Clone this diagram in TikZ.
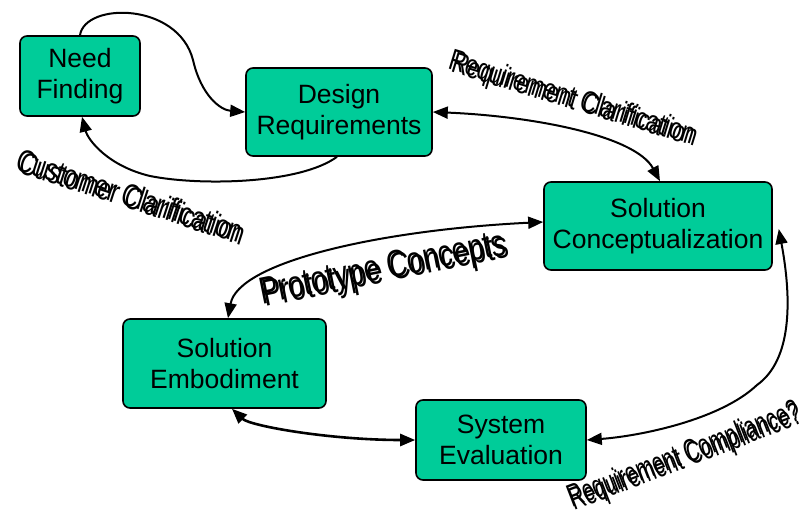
\documentclass[tikz,border=0pt]{standalone}
\usepackage{fontspec}
\setmainfont{Liberation Sans}
\usepackage{pdfrender}
\usetikzlibrary{arrows.meta}
\definecolor{boxgreen}{HTML}{00CC99}
\definecolor{shadowgray}{HTML}{8C8C8C}
\tikzset{
  stage/.style={draw=black, line width=1.6pt, fill=boxgreen, rounded corners=7pt,
    align=center, inner sep=0pt, font=\fontsize{26.5}{31}\selectfont},
  link/.style={line width=2pt, -{Triangle[length=15pt,width=12pt]}},
  twoway/.style={line width=2pt, {Triangle[length=15pt,width=12pt]}-{Triangle[length=15pt,width=12pt]}},
}
% Outlined label with a drop shadow: name, centre, angle, font size, x-scale, text
\newcommand\artlabel[6]{%
  \begin{scope}[shift={#2}]
    \node[rotate=#3, xscale=#5, font=\fontsize{#4}{#4}\selectfont] at (2.8,2.8)
      {\textpdfrender{TextRenderingMode=FillStroke, LineWidth=1.6pt,
        FillColor=shadowgray, StrokeColor=shadowgray}{#6}};
    \node[rotate=#3, xscale=#5, font=\fontsize{#4}{#4}\selectfont] (#1) at (0,0)
      {\textpdfrender{TextRenderingMode=FillStroke, LineWidth=1.5pt,
        FillColor=white, StrokeColor=black}{#6}};
  \end{scope}%
}
\begin{document}
\begin{tikzpicture}[x=1pt, y=-1pt]
  \useasboundingbox (0,0) rectangle (809,519);

  % stages
  \node[stage, minimum width=120pt, minimum height=80pt] (need)    at (80,76)    {Need\\Finding};
  \node[stage, minimum width=186pt, minimum height=88pt] (design)  at (339,112)  {Design\\Requirements};
  \node[stage, minimum width=228pt, minimum height=88pt] (concept) at (658,226)  {Solution\\Conceptualization};
  \node[stage, minimum width=203pt, minimum height=89pt] (embod)   at (224.5,363.5) {Solution\\Embodiment};
  \node[stage, minimum width=170pt, minimum height=80pt] (syseval) at (501,440)  {System\\Evaluation};

  % connectors
  \draw[link] (need.north) .. controls (85,2) and (178,2) .. (193,60)
                           .. controls (201,95) and (220,110) .. (design.west);
  \draw[link] ([xshift=-2pt]design.south) .. controls (300,184) and (200,186) .. (150,176)
                           .. controls (108,166) and (88,140) .. ([xshift=2pt]need.south);
  \draw[twoway] (design.east) .. controls (530,116) and (635,135) .. ([xshift=2pt]concept.north);
  \draw[twoway] ([yshift=4pt]concept.west) .. controls (380,230) and (238,262) .. ([xshift=3.5pt]embod.north);
  \draw[twoway] ([xshift=6pt,yshift=-3pt]concept.east) .. controls (792,300) and (792,360) .. (757,385)
                           .. controls (720,420) and (640,436) .. (syseval.east);
  \draw[twoway, line width=2.6pt] ([xshift=7.5pt]embod.south) .. controls (250,426) and (330,440) .. (syseval.west);

  % labels
  \artlabel{lblreq}{(572,99)}{-17}{30}{0.76}{Requirement Clarification}
  \artlabel{lblcust}{(130,195)}{-18}{32}{0.75}{Customer Clarification}
  \artlabel{lblproto}{(383,270)}{11.5}{38}{0.75}{Prototype Concepts}
  \artlabel{lblcomp}{(684,456)}{21}{32}{0.65}{Requirement Compliance?}
\end{tikzpicture}
\end{document}
